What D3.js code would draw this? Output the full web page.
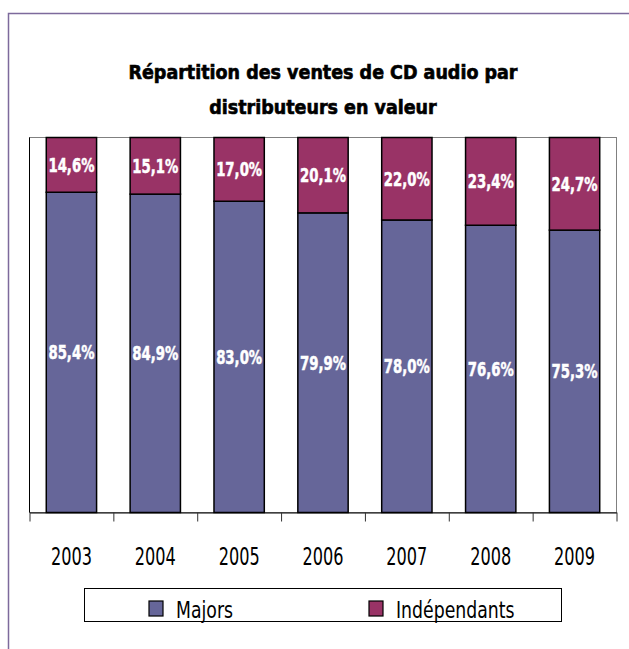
<!DOCTYPE html>
<html>
<head>
<meta charset="utf-8">
<script src="https://cdn.jsdelivr.net/npm/d3@7"></script>
<style>
  body { margin: 0; background: #fff; }
  svg { display: block; }
  text { font-family: "DejaVu Sans", sans-serif; font-stretch: condensed; }
</style>
</head>
<body>
<script>
var years = ["2003", "2004", "2005", "2006", "2007", "2008", "2009"];
var majors = [85.4, 84.9, 83.0, 79.9, 78.0, 76.6, 75.3];
var independants = [14.6, 15.1, 17.0, 20.1, 22.0, 23.4, 24.7];
var seriesNames = ["Majors", "Indépendants"];
var seriesColors = ["#666699", "#993366"];

var svgWidth = 629, svgHeight = 649;
var plot = {left: 29.5, right: 616.5, top: 137.5, bottom: 512.5};

// squeeze text horizontally so widths match the narrow font of the original
function condense(sel, factor) {
  sel.each(function () {
    var w = this.getComputedTextLength();
    d3.select(this).attr("textLength", w * factor).attr("lengthAdjust", "spacingAndGlyphs");
  });
}
function fitFactor(sel, target) {
  return target / sel.node().getComputedTextLength();
}

var svg = d3.select("body").append("svg")
    .attr("width", svgWidth)
    .attr("height", svgHeight);

// outer frame
svg.append("rect")
    .attr("x", 8.5).attr("y", 13.5)
    .attr("width", 700).attr("height", 700)
    .attr("fill", "#fff")
    .attr("stroke", "#7d6a9c")
    .attr("stroke-width", 1.5);

// title
var titleLines = ["Répartition des ventes de CD audio par", "distributeurs en valeur"];
var title = svg.selectAll(".title")
    .data(titleLines).enter()
  .append("text")
    .attr("class", "title")
    .attr("x", 323)
    .attr("y", (d, i) => 78.5 + i * 35.5)
    .attr("text-anchor", "middle")
    .attr("font-weight", "bold")
    .attr("font-size", 19.5)
    .attr("fill", "#000")
    .attr("stroke", "#000")
    .attr("stroke-width", 0.6)
    .text(d => d);
condense(title, fitFactor(title.filter((d, i) => i == 0), 389));

var data = years.map((y, i) => ({year: y, Majors: majors[i], "Indépendants": independants[i]}));
var stacked = d3.stack().keys(seriesNames)(data);

var xScale = d3.scaleBand().domain(years).range([plot.left, plot.right]).padding(0);
var xEdge = d3.scaleLinear().domain([0, years.length]).range([plot.left, plot.right]);
var yScale = d3.scaleLinear().domain([0, 100]).range([plot.bottom, plot.top]);
var barWidth = xScale.bandwidth() * 0.6;

// plot area border
svg.append("rect")
    .attr("x", plot.left).attr("y", plot.top)
    .attr("width", plot.right - plot.left).attr("height", plot.bottom - plot.top)
    .attr("fill", "#fff")
    .attr("stroke", "#808080")
    .attr("stroke-width", 1);
svg.append("line")
    .attr("x1", plot.left).attr("x2", plot.left)
    .attr("y1", plot.top).attr("y2", plot.bottom)
    .attr("stroke", "#000");

// bars
var layers = svg.selectAll(".layer")
    .data(stacked).enter()
  .append("g")
    .attr("class", "layer")
    .attr("fill", (d, i) => seriesColors[i]);

layers.selectAll("rect")
    .data(d => d).enter()
  .append("rect")
    .attr("x", d => xScale(d.data.year) + (xScale.bandwidth() - barWidth) / 2)
    .attr("y", d => yScale(d[1]))
    .attr("width", barWidth)
    .attr("height", d => yScale(d[0]) - yScale(d[1]))
    .attr("stroke", "#000")
    .attr("stroke-width", 1.5);

// value labels
var vals = layers.selectAll(".val")
    .data(d => d.map(p => ({p: p, key: d.key}))).enter()
  .append("text")
    .attr("class", "val")
    .attr("x", d => xScale(d.p.data.year) + xScale.bandwidth() / 2)
    .attr("y", d => (yScale(d.p[0]) + yScale(d.p[1])) / 2)
    .attr("dy", "0.36em")
    .attr("text-anchor", "middle")
    .attr("font-weight", "bold")
    .attr("font-size", 19.5)
    .attr("fill", "#fff")
    .attr("stroke", "#fff")
    .attr("stroke-width", 0.5)
    .text(d => d.p.data[d.key].toFixed(1).replace(".", ",") + "%");
var allVals = svg.selectAll(".val");
condense(allVals, fitFactor(allVals, 46));

// x axis: tick marks between categories
svg.append("g")
    .attr("transform", "translate(0," + plot.bottom + ")")
    .call(d3.axisBottom(xEdge).tickValues(d3.range(years.length + 1)).tickFormat("").tickSize(9).tickSizeOuter(0))
    .call(g => g.select(".domain").attr("stroke", "#000"))
    .call(g => g.selectAll(".tick line").attr("stroke", "#333"));

// x axis labels
var xLabels = svg.append("g")
    .attr("transform", "translate(0," + plot.bottom + ")")
    .call(d3.axisBottom(xScale).tickSize(0))
    .call(g => g.select(".domain").remove())
    .selectAll("text")
      .attr("y", 52.5)
      .attr("dy", 0)
      .attr("font-size", 24)
      .attr("font-family", null)
      .attr("fill", "#000");
condense(xLabels, fitFactor(xLabels, 41));

// legend
var legend = svg.append("g");
legend.append("rect")
    .attr("x", 84.5).attr("y", 588.5)
    .attr("width", 477).attr("height", 33)
    .attr("fill", "#fff")
    .attr("stroke", "#000")
    .attr("stroke-width", 1);

var legendX = [149, 369];
var item = legend.selectAll(".item")
    .data(seriesNames).enter()
  .append("g")
    .attr("transform", (d, i) => "translate(" + legendX[i] + ",601)");
item.append("rect")
    .attr("width", 14).attr("height", 15)
    .attr("fill", (d, i) => seriesColors[i])
    .attr("stroke", "#000")
    .attr("stroke-width", 1.2);
var legText = item.append("text")
    .attr("x", 27).attr("y", 17)
    .attr("font-size", 22.5)
    .text(d => d);
condense(legText, fitFactor(legText, 57));
</script>
</body>
</html>
